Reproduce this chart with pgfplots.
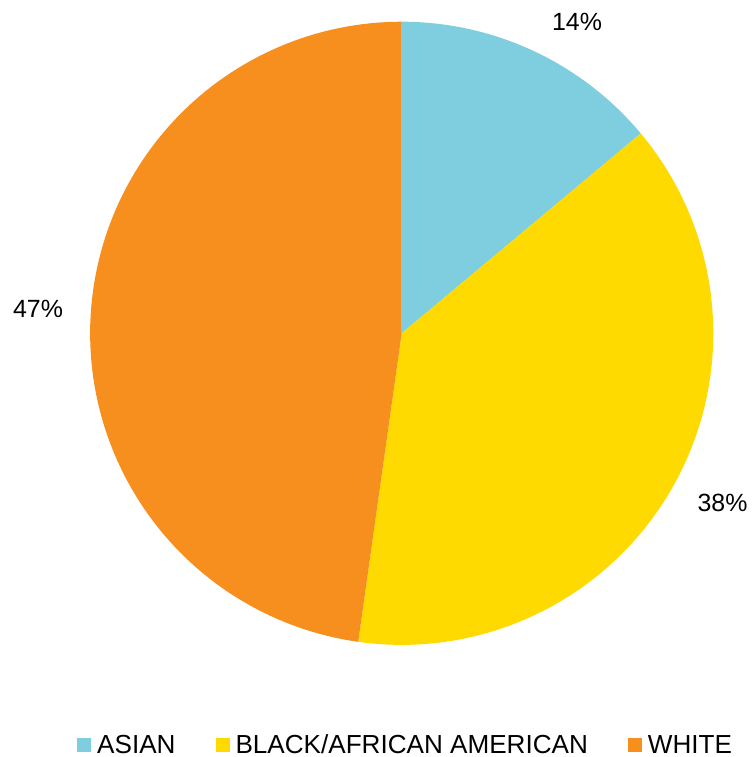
\documentclass[border=0pt]{standalone}
\usepackage{fontspec}
\setmainfont{Liberation Sans}
\usepackage{pgfplots}
\usepackage{pgfplotstable}
\pgfplotsset{compat=1.18}

\definecolor{asian}{RGB}{126,206,224}
\definecolor{black-aa}{RGB}{255,218,0}
\definecolor{white-c}{RGB}{247,143,30}

% share = slice size (read off the angles), pct = printed label,
% lx/ly = where the data label sits (axis units = px)
\pgfplotstableread{
label                    share  pct  lx      ly
ASIAN                    13.92  14   175.3   311.8
{BLACK/AFRICAN AMERICAN} 38.31  38   320.8  -169.2
WHITE                    47.77  47  -363.7    24.3
}\piedata

\begin{document}
\begin{tikzpicture}
\pgfplotstablegetelem{0}{share}\of\piedata \let\vA\pgfplotsretval
\pgfplotstablegetelem{1}{share}\of\piedata \let\vB\pgfplotsretval
\pgfplotstablegetelem{2}{share}\of\piedata \let\vC\pgfplotsretval
\pgfmathsetmacro\tot{\vA+\vB+\vC}
\pgfmathsetmacro\aA{90}
\pgfmathsetmacro\aB{\aA-\vA/\tot*360}
\pgfmathsetmacro\aC{\aB-\vB/\tot*360}
\pgfmathsetmacro\aD{\aC-\vC/\tot*360}
\def\R{311.6}
   \begin{axis}[
      width  = 753bp,
      height = 757bp,
      scale only axis,
      hide axis,
      clip = false,
      xmin = -401.7, xmax = 351.3,
      ymin = -423.7, ymax = 333.3,
      samples = 120,
      area legend,
      legend columns = 3,
      legend image code/.code={\fill[#1] (0bp,-7bp) rectangle (14bp,7bp);},
      legend style={
         draw=none, fill=none,
         at={(axis cs:-327.7,-411.5)}, anchor=west,
         font=\fontsize{26.2}{30}\selectfont,
         nodes={inner sep=0pt},
         /tikz/every odd column/.append style={column sep=6bp},
         /tikz/every even column/.append style={column sep=40bp},
      },
   ]
      \addplot[fill=asian, draw=none, domain=\aB:\aA]
         ({\R*cos(x)}, {\R*sin(x)}) -- (axis cs:0,0) -- cycle;
      \addplot[fill=black-aa, draw=none, domain=\aC:\aB]
         ({\R*cos(x)}, {\R*sin(x)}) -- (axis cs:0,0) -- cycle;
      \addplot[fill=white-c, draw=none, domain=\aD:\aC]
         ({\R*cos(x)}, {\R*sin(x)}) -- (axis cs:0,0) -- cycle;

      % data labels
      \addplot[forget plot, draw=none, no markers,
         point meta=explicit symbolic,
         nodes near coords={\pgfplotspointmeta\%},
         nodes near coords align=center,
         every node near coord/.append style={anchor=center, inner sep=0pt,
            font=\fontsize{25}{30}\selectfont, text=black},
      ] table[x=lx, y=ly, meta=pct] {\piedata};

      \legend{ASIAN, BLACK/AFRICAN AMERICAN, WHITE}
  \end{axis}
\pgfresetboundingbox
\useasboundingbox (current axis.south west) rectangle (current axis.north east);
\end{tikzpicture}
\end{document}
